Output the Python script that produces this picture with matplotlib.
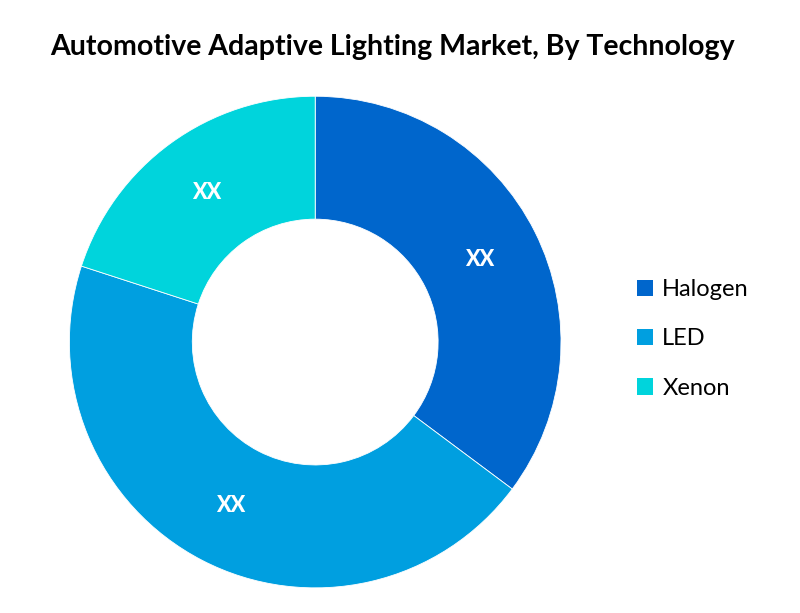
import numpy as np
import matplotlib.pyplot as plt
from matplotlib.patches import Patch

# chart data
technologies = ['Halogen', 'LED', 'Xenon']
shares = [35.2, 44.8, 20.0]
labels = ['XX', 'XX', 'XX']
colors = ['#0066CC', '#009FE0', '#00D4DC']

plt.rcParams['font.family'] = ['Lato', 'DejaVu Sans']

fig = plt.figure(figsize=(8, 6.13), dpi=100)
ax = fig.add_axes([0.394 - 0.3075, 0.442 - 0.401, 0.615, 0.802])

wedges, _ = ax.pie(shares, colors=colors, startangle=90, counterclock=False,
                   radius=1.0, wedgeprops=dict(width=0.5, edgecolor='white', linewidth=0.6))

# white value labels in the middle of the ring
for w, lab in zip(wedges, labels):
    ang = np.deg2rad((w.theta1 + w.theta2) / 2)
    ax.text(0.75 * np.cos(ang), 0.75 * np.sin(ang), lab, color='white',
            fontsize=15.5, fontweight='black', ha='center', va='center')

ax.set_xlim(-1, 1)
ax.set_ylim(-1, 1)
ax.set_aspect('equal')
ax.axis('off')

fig.text(0.49, 0.923, 'Automotive Adaptive Lighting Market, By Technology',
         ha='center', va='center', fontsize=20.5, fontweight='bold')

handles = [Patch(facecolor=c, edgecolor='none') for c in colors]
fig.legend(handles, technologies, loc='center left', bbox_to_anchor=(0.770, 0.447),
           frameon=False, fontsize=17, handlelength=0.68, handleheight=0.68,
           handletextpad=0.38, labelspacing=1.2)

fig.savefig('out.png', dpi=100)
